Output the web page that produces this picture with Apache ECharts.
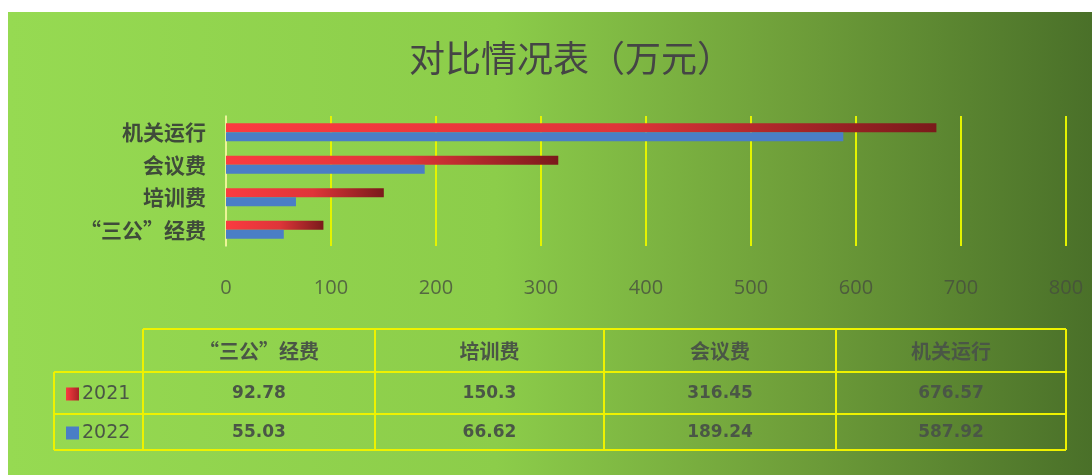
<!DOCTYPE html>
<html><head><meta charset="utf-8">
<script src="https://cdn.jsdelivr.net/npm/echarts@6/dist/echarts.min.js"></script>
<style>html,body{margin:0;padding:0;background:#fff;overflow:hidden}#c{position:absolute;left:8px;top:12px;width:1084px;height:463px}</style>
</head><body><div id="c"></div>
<script>
// ---- data ----
const titleText = '对比情况表（万元）';
const categories = ['“三公”经费', '培训费', '会议费', '机关运行'];
const seriesNames = ['2021', '2022'];
const values2021 = [92.78, 150.3, 316.45, 676.57];
const values2022 = [55.03, 66.62, 189.24, 587.92];
const tableValues2021 = ['92.78', '150.3', '316.45', '676.57'];
const tableValues2022 = ['55.03', '66.62', '189.24', '587.92'];
const xMin = 0, xMax = 800, xInterval = 100;

// ---- layout (container coords; container is offset 8,12) ----
const OX = 8, OY = 12;
const colX = [143, 375, 604, 836, 1066].map(v => v - OX);
const rowY = [329, 372, 414, 450].map(v => v - OY);
const rowHeadLeft = 54 - OX;
const yellow = '#eef200';
const txtColor = '#4a5646';

const redGrad = new echarts.graphic.LinearGradient(0, 0, 1, 0, [
  {offset: 0, color: '#fb3b40'}, {offset: 0.55, color: '#df3539'}, {offset: 1, color: '#7a1a1b'}
]);
const blue = '#4a7ec6';

const g = [];
function line(x1, y1, x2, y2) {
  g.push({type: 'line', silent: true, z: 5, shape: {x1, y1, x2, y2}, style: {stroke: yellow, lineWidth: 2}});
}
line(colX[0], rowY[0], colX[4], rowY[0]);
for (let r = 1; r < 4; r++) line(rowHeadLeft, rowY[r], colX[4], rowY[r]);
line(rowHeadLeft, rowY[1], rowHeadLeft, rowY[3]);
colX.forEach(x => line(x, rowY[0], x, rowY[3]));

categories.forEach((c, i) => {
  const cx = (colX[i] + colX[i + 1]) / 2;
  g.push({type: 'text', silent: true, z: 6, style: {text: c, x: cx, y: (rowY[0] + rowY[1]) / 2 + 1, align: 'center', verticalAlign: 'middle',
    font: 'bold 20px "Noto Sans CJK SC"', fill: txtColor}});
  [tableValues2021, tableValues2022].forEach((arr, k) => {
    g.push({type: 'text', silent: true, z: 6, style: {text: arr[i], x: cx, y: (rowY[k + 1] + rowY[k + 2]) / 2 + 1, align: 'center', verticalAlign: 'middle',
      font: 'bold 17px "DejaVu Sans"', fill: txtColor}});
  });
});
seriesNames.forEach((s, k) => {
  const cy = (rowY[k + 1] + rowY[k + 2]) / 2 + 1;
  g.push({type: 'rect', silent: true, z: 6, shape: {x: 66 - OX, y: cy - 6.5, width: 13, height: 13},
    style: {fill: k === 0 ? new echarts.graphic.LinearGradient(0, 0, 1, 0, [{offset: 0, color: '#fb3b40'}, {offset: 1, color: '#a82226'}]) : blue}});
  g.push({type: 'text', silent: true, z: 6, style: {text: s, x: 82 - OX, y: cy, align: 'left', verticalAlign: 'middle',
    font: '19px "DejaVu Sans"', fill: txtColor}});
});

const chart = echarts.init(document.getElementById('c'));
chart.setOption({
  animation: false,
  backgroundColor: new echarts.graphic.LinearGradient(0, 0, 1, 0, [
    {offset: 0, color: '#96da52'}, {offset: 0.45, color: '#8ccd4a'}, {offset: 0.72, color: '#6f9f3a'}, {offset: 1, color: '#4a7029'}
  ]),
  title: {text: titleText, left: 404 - OX, top: 35 - OY,
    textStyle: {fontFamily: '"Noto Sans CJK SC"', fontSize: 36, fontWeight: 'normal', color: '#454545'}},
  grid: {left: 226 - OX, right: 26, top: 116 - OY, bottom: 229, containLabel: false},
  xAxis: {type: 'value', min: xMin, max: xMax, interval: xInterval,
    axisLine: {show: false}, axisTick: {show: false},
    splitLine: {lineStyle: {color: '#e4f400', width: 2}},
    axisLabel: {margin: 32, fontSize: 20, fontFamily: '"Open Sans"', color: 'rgba(70,78,62,0.8)'}},
  yAxis: {type: 'category', data: categories,
    axisLine: {show: true, lineStyle: {color: '#eef5c8', width: 1.5}}, axisTick: {show: false},
    axisLabel: {margin: 20, fontSize: 21, fontWeight: 'bold', fontFamily: '"Noto Sans CJK SC"', color: '#3f4b3a'}},
  series: [
    {name: seriesNames[0], type: 'bar', data: values2021, barWidth: 9, barGap: '0%', itemStyle: {color: redGrad}},
    {name: seriesNames[1], type: 'bar', data: values2022, barWidth: 9, barGap: '0%', itemStyle: {color: blue}}
  ],
  graphic: g
});
</script></body></html>
